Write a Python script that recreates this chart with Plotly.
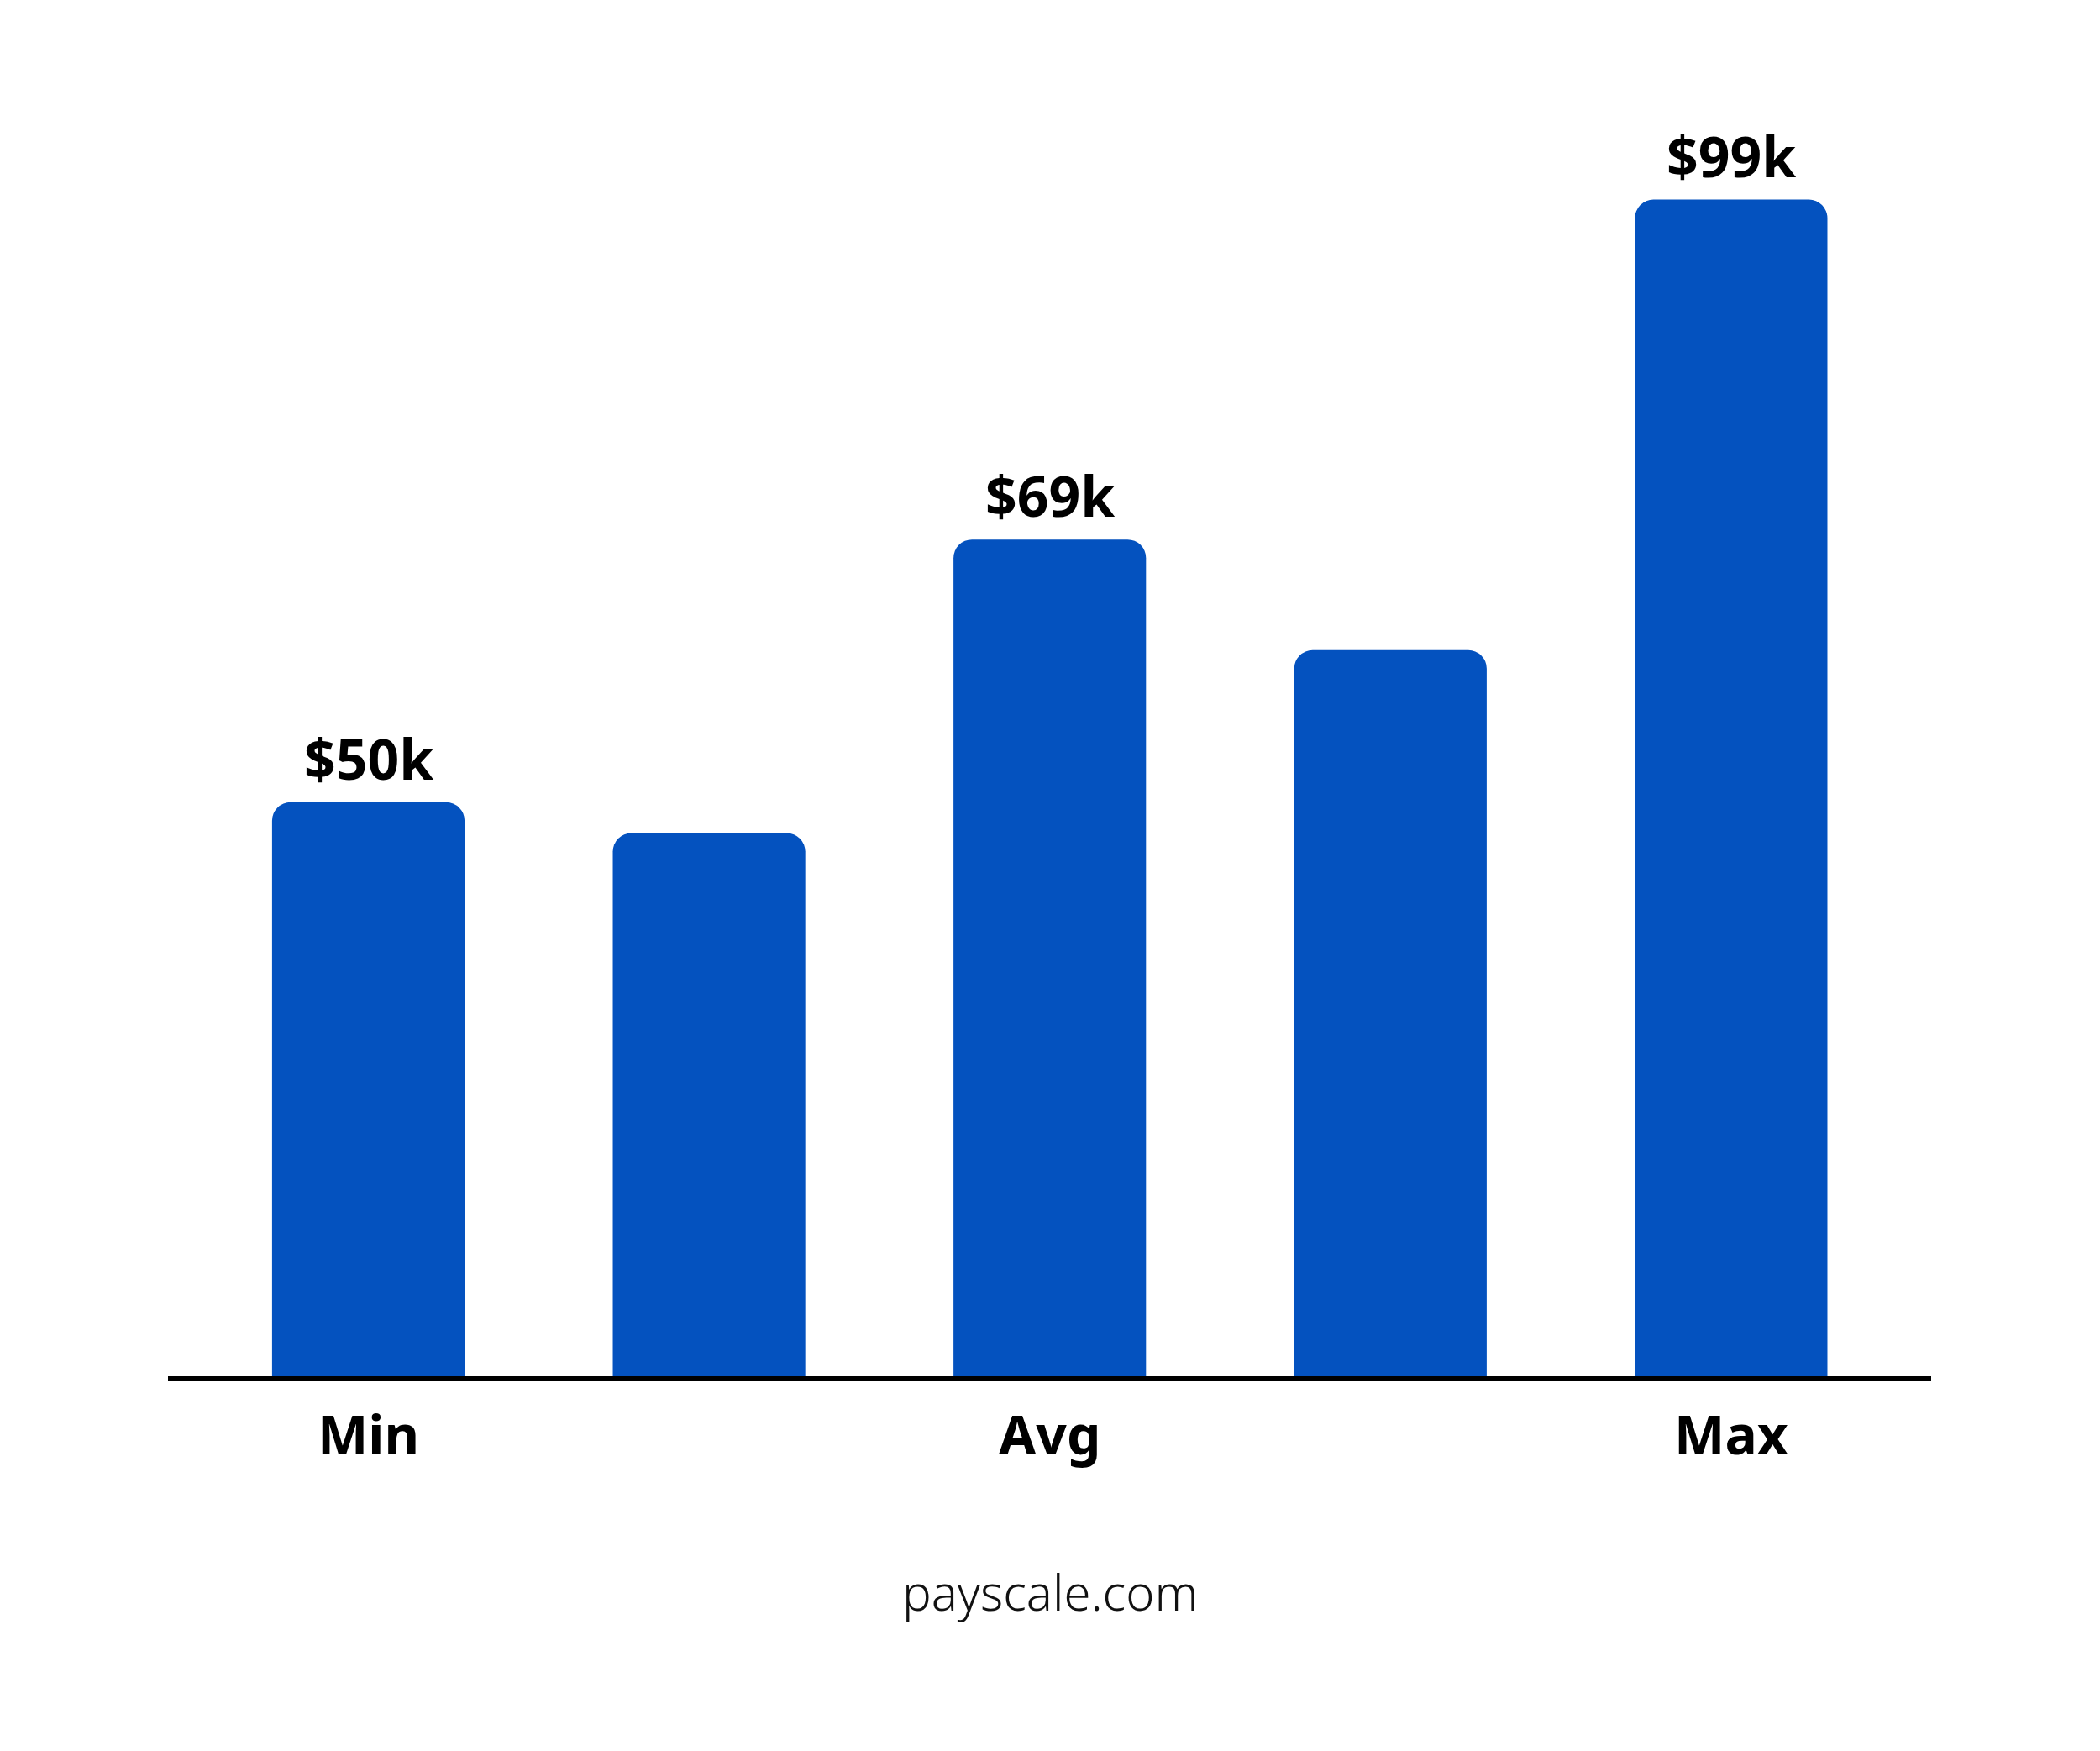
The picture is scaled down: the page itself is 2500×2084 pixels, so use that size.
import plotly.graph_objects as go

# Data (bar heights in $k, labels as printed)
positions = [0, 1, 2, 3, 4]
bar_values = [48.3, 45.7, 70.4, 61.1, 99.0]
value_labels = ["$50k", "", "$69k", "", "$99k"]
tick_positions = [0, 2, 4]
tick_labels = ["Min", "Avg", "Max"]
source_text = "payscale.com"

BAR_COLOR = "#0452BF"
FONT = "Noto Sans"

fig = go.Figure()
fig.add_trace(go.Bar(
    x=positions,
    y=bar_values,
    marker=dict(color=BAR_COLOR, line=dict(width=0), cornerradius=22),
    width=0.565,
    hoverinfo="skip",
))

for xv, yv, lab in zip(positions, bar_values, value_labels):
    if lab:
        fig.add_annotation(
            x=xv, y=yv, text=f"<b>{lab}</b>", showarrow=False,
            xanchor="center", yanchor="bottom", yshift=6,
            font=dict(family=FONT, size=66, color="#000000"),
        )

fig.add_annotation(
    x=0.5, y=-0.165, xref="paper", yref="paper", text=source_text,
    showarrow=False, xanchor="center", yanchor="middle",
    font=dict(family=FONT, size=58, color="#111111", weight=300),
)

fig.update_layout(
    width=2500, height=2084,
    margin=dict(l=192, r=209, t=74, b=454),
    paper_bgcolor="white", plot_bgcolor="white",
    showlegend=False,
    xaxis=dict(
        range=[-0.588, 4.587],
        tickvals=tick_positions, ticktext=[f"<b>{t}</b>" for t in tick_labels],
        tickfont=dict(family=FONT, size=64, color="#000000"),
        showgrid=False, zeroline=False,
        showline=True, linecolor="#000000", linewidth=6,
        ticks="", ticklabelstandoff=10,
        fixedrange=True,
    ),
    yaxis=dict(
        range=[0, 110], visible=False, showgrid=False, zeroline=False,
        fixedrange=True,
    ),
)

fig.write_html("out.html")
